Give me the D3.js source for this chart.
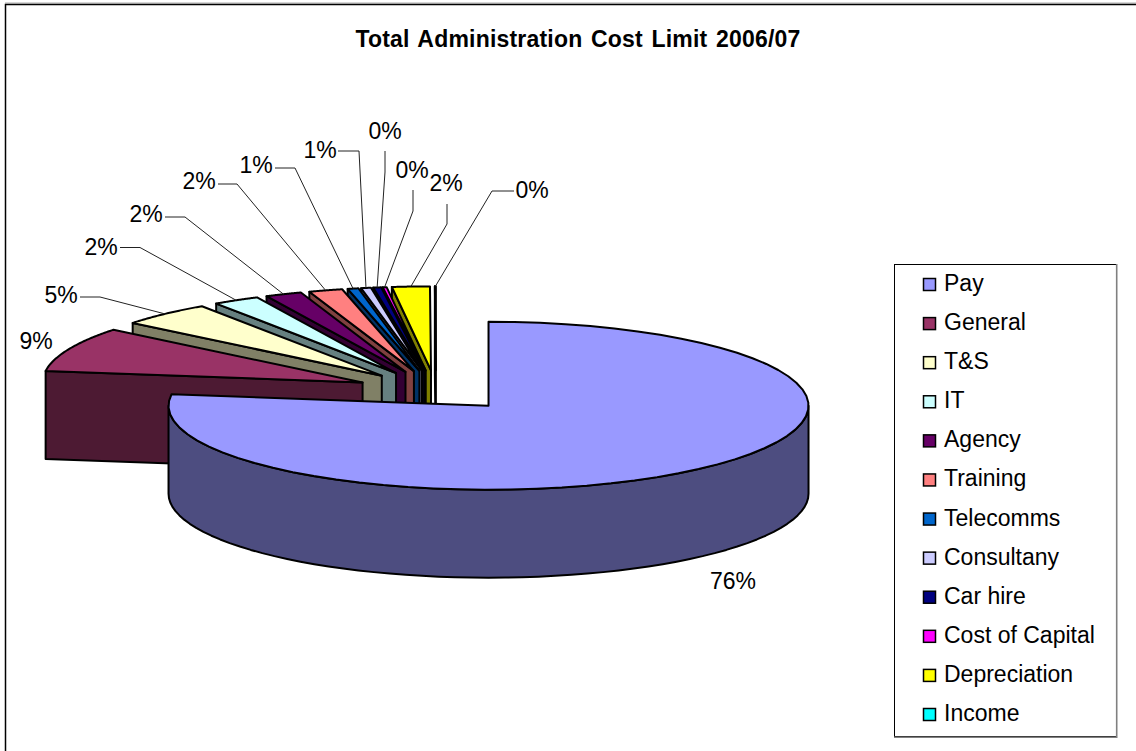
<!DOCTYPE html>
<html><head><meta charset="utf-8">
<script src="https://cdn.jsdelivr.net/npm/d3@7/dist/d3.min.js"></script>
<style>html,body{margin:0;padding:0;background:#fff}svg{display:block}text{font-family:"Liberation Sans",Arial,sans-serif;fill:#000}</style>
</head><body><svg id="c" width="1136" height="751"></svg>
<script>
const categories = ["Pay","General","T&S","IT","Agency","Training","Telecomms","Consultany","Car hire","Cost of Capital","Depreciation","Income"];
const shares = [77.2,8.6,4.7,2.35,1.85,1.7,0.55,0.5,0.4,0.2,1.9,0.05];
const percentLabels = ["76%","9%","5%","2%","2%","2%","1%","1%","0%","0%","2%","0%"];
const topColors = ["#9999FF","#993366","#FFFFCC","#CCFFFF","#660066","#FF8080","#0066CC","#CCCCFF","#000080","#FF00FF","#FFFF00","#00FFFF"];
const wallColors = ["#4D4D80","#4D1A33","#808066","#668080","#330033","#804040","#003366","#666680","#000040","#800080","#808000","#008080"];
const title = "Total Administration Cost Limit 2006/07";

// layout
const labelAt = [[733,581],[36,341],[61,295],[101,247],[146,214],[199,181],[256,165],[320,150],[385,131],[412,170],[446,183],[532,190]];
const elbows = [null,null,[[80,297],[100,297]],[[120,247.5],[140,247.5]],[[165,217],[185,217]],[[218,184],[237,184]],[[275,168],[295,168]],[[338,151],[359,151]],[[385,151],[385,172]],[[413,190],[413,211]],[[447,204],[447,224]],[[514,191],[492,191]]];
const cx0=436, cy0=390.5, rx=320, ry=84, depth=88, explodeX=0.25, explodeY=0.24;

const svg=d3.select("#c");
// frame
svg.append("line").attr("x1",5).attr("x2",1136).attr("y1",3).attr("y2",3).attr("stroke","#aaa");
svg.append("path").attr("d","M5.5,751V4.5H1136").attr("fill","none").attr("stroke","#000").attr("stroke-width",1.5);

svg.append("text").attr("x",578).attr("y",47).attr("text-anchor","middle").attr("font-weight","bold").attr("font-size",23)
  .attr("word-spacing",2).attr("letter-spacing",0.2).text(title);

const pie=d3.pie().sort(null).value(d=>d)(shares);
const slices=pie.map((p,i)=>{
  const tm=(p.startAngle+p.endAngle)/2;
  return {i,t0:p.startAngle,t1:p.endAngle,cx:cx0+explodeX*rx*Math.sin(tm),cy:cy0-explodeY*ry*Math.cos(tm)};
});
const pt=(s,t,dy=0)=>[s.cx+rx*Math.sin(t),s.cy-ry*Math.cos(t)+dy];
const arcPts=(s,a,b,dy=0)=>d3.range(0,61).map(k=>pt(s,a+(b-a)*k/60,dy));
const line=d3.line();
const g=svg.append("g").attr("stroke","#000").attr("stroke-width",2).attr("stroke-linejoin","round");
// back to front: last slice first
slices.slice().reverse().forEach(s=>{
  const gs=g.append("g");
  const apex=[s.cx,s.cy], apexD=[s.cx,s.cy+depth];
  if(s.i>0){
    const a=pt(s,s.t0), b=pt(s,s.t0,depth);
    gs.append("path").attr("d",line([apex,a,b,apexD])+"Z").attr("fill",wallColors[s.i]);
  } else {
    const w=arcPts(s,Math.PI/2,1.5*Math.PI).concat(arcPts(s,1.5*Math.PI,Math.PI/2,depth));
    gs.append("path").attr("d",line(w)+"Z").attr("fill",wallColors[s.i]);
  }
  gs.append("path").attr("d",line([apex].concat(arcPts(s,s.t0,s.t1)))+"Z").attr("fill",topColors[s.i]);
});
// leaders
const lg=svg.append("g").attr("fill","none").attr("stroke","#222").attr("stroke-width",1);
slices.forEach(s=>{
  const e=elbows[s.i]; if(!e) return;
  lg.append("path").attr("d",line([e[0],e[1],pt(s,(s.t0+s.t1)/2)]));
});
// labels
svg.append("g").selectAll("text").data(percentLabels).join("text")
  .attr("x",(d,i)=>labelAt[i][0]).attr("y",(d,i)=>labelAt[i][1]+8).attr("text-anchor","middle")
  .attr("font-size",23).attr("fill","#111").text(d=>d);
// legend
const leg=svg.append("g");
leg.append("rect").attr("x",894.5).attr("y",264.5).attr("width",222).attr("height",472).attr("fill","#fff").attr("stroke","#000").attr("stroke-width",1);
leg.append("path").attr("d","M1116.7,264V737.3H894").attr("fill","none").attr("stroke","#808080").attr("stroke-width",1.6);
const ly=d3.scalePoint().domain(categories).range([284,714]);
const rows=leg.selectAll("g.r").data(categories).join("g").attr("class","r");
rows.append("rect").attr("x",923.5).attr("y",d=>ly(d)-5.5).attr("width",12).attr("height",12).attr("fill",(d,i)=>topColors[i]).attr("stroke","#000").attr("stroke-width",1.5);
rows.append("text").attr("x",944).attr("y",d=>ly(d)+7).attr("font-size",23).attr("fill","#111").text(d=>d);
</script></body></html>
